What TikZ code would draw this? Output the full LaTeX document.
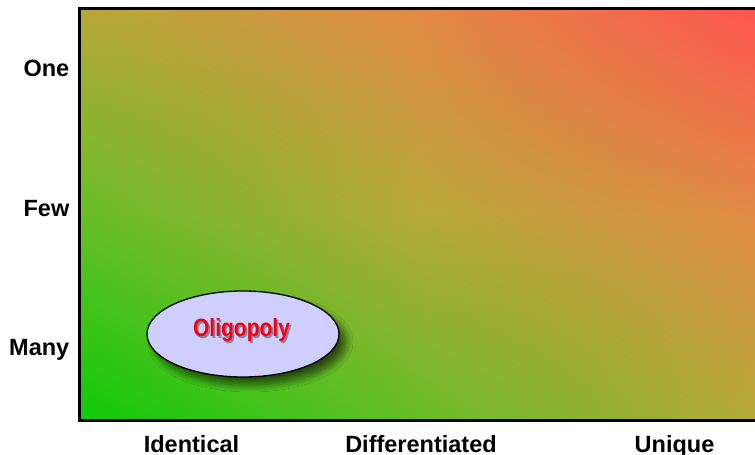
\documentclass[tikz,border=0pt]{standalone}
\usepackage{fontspec}
\setmainfont{Liberation Sans}
\newfontfamily\narrowfont[FakeStretch=0.84]{Liberation Sans}
\usetikzlibrary{shadows.blur,shadings,shapes.geometric}
\definecolor{tA}{RGB}{14,202,10}
\definecolor{tB}{RGB}{103,190,38}
\definecolor{tC}{RGB}{182,168,56}
\definecolor{tD}{RGB}{226,138,70}
\definecolor{tE}{RGB}{255,84,80}
\definecolor{ellfill}{RGB}{206,206,255}
\definecolor{txtred}{RGB}{245,0,15}
\tikzset{
  axislabel/.style={font=\fontsize{23.5}{26}\selectfont\bfseries, inner sep=0pt, text=black},
  market/.style={ellipse, draw=black, line width=1.3pt, fill=ellfill, minimum width=192pt, minimum height=86pt, inner sep=0pt,
    blur shadow={shadow xshift=7pt, shadow yshift=-8pt, shadow blur radius=7pt, shadow blur steps=12, shadow opacity=60}},
  markettext/.style={font=\narrowfont\fontsize{25}{28}\selectfont\bfseries, text=txtred, inner sep=0pt, anchor=base}
}
\begin{document}
\begin{tikzpicture}[x=1pt,y=1pt]
\useasboundingbox (0,0) rectangle (755,455);
% background gradient as four bilinear patches (diagonal green -> olive -> red)
\shade[lower left=tA, lower right=tB, upper left=tB, upper right=tC] (79,34.5) rectangle (418.5,241);
\shade[lower left=tB, lower right=tC, upper left=tC, upper right=tD] (418,34.5) rectangle (760,241);
\shade[lower left=tB, lower right=tC, upper left=tC, upper right=tD] (79,240.5) rectangle (418.5,446.5);
\shade[lower left=tC, lower right=tD, upper left=tD, upper right=tE] (418,240.5) rectangle (760,446.5);
\draw[line width=3pt] (760,446.5) -- (79,446.5) -- (79,34.5) -- (760,34.5);
\node[market] (olig) at (243,121) {};
\node[markettext, text=black, opacity=0.35] (oligshadow) at (243.3,116.6) {Oligopoly};
\node[markettext] (oligtext) at (241.5,118) {Oligopoly};
\node[axislabel, anchor=base east] (one) at (69.5,378) {One};
\node[axislabel, anchor=base east] (few) at (69.5,238) {Few};
\node[axislabel, anchor=base east] (many) at (69.5,99) {Many};
\node[axislabel, anchor=base] (ident) at (191.5,2.5) {Identical};
\node[axislabel, anchor=base] (diff) at (421,2.5) {Differentiated};
\node[axislabel, anchor=base] (uniq) at (674.5,2.5) {Unique};
\end{tikzpicture}
\end{document}
